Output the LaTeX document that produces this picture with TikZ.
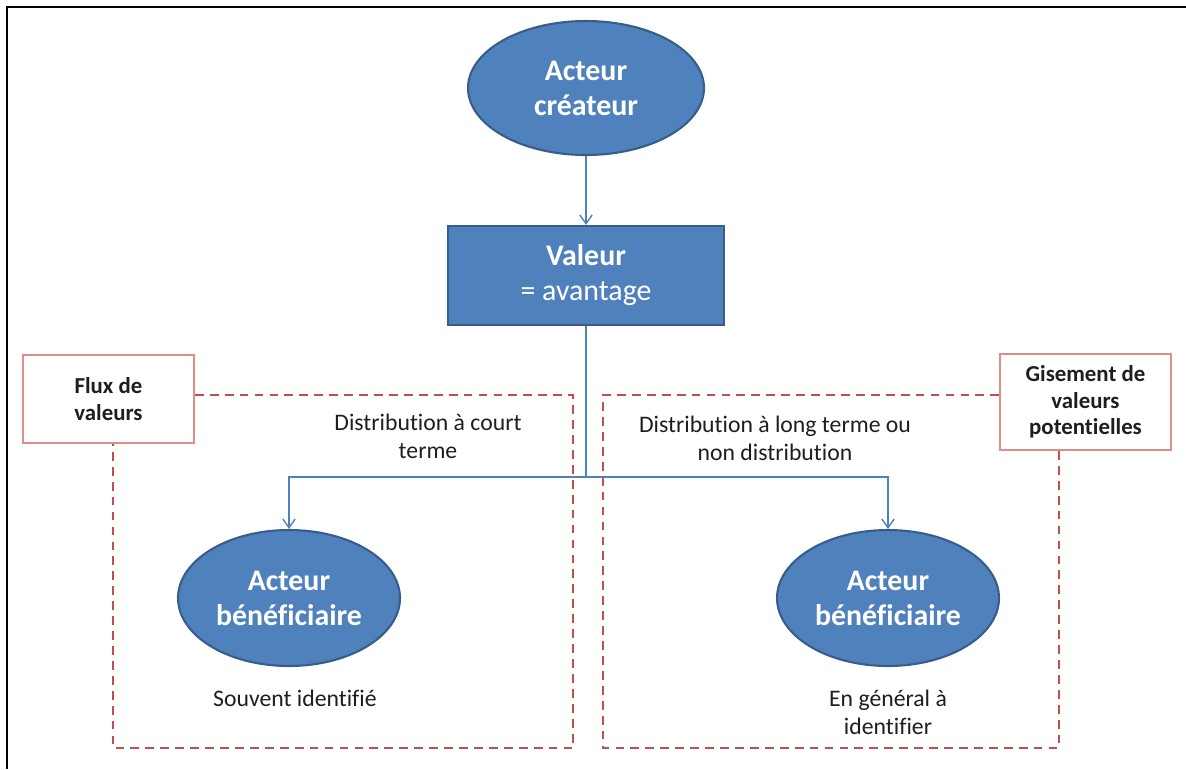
\documentclass[tikz,border=0pt]{standalone}
\usepackage{fontspec}
\setmainfont[Ligatures=NoCommon]{Carlito}
\usetikzlibrary{arrows.meta,shapes.geometric}
\definecolor{offblue}{RGB}{79,129,189}
\definecolor{offedge}{RGB}{56,93,138}
\definecolor{dashred}{RGB}{192,80,77}
\definecolor{labred}{RGB}{226,140,140}
\definecolor{txt}{RGB}{30,30,30}
\tikzset{
  actor/.style={ellipse,draw=offedge,line width=1.2pt,fill=offblue,text=white,
    font=\fontsize{17}{20}\selectfont\bfseries,align=center,inner sep=0pt},
  valbox/.style={rectangle,draw=offedge,line width=1.2pt,fill=offblue,text=white,
    font=\fontsize{17}{20}\selectfont,align=center,
    minimum width=5.52cm,minimum height=1.98cm},
  tagbox/.style={rectangle,draw=labred,line width=1pt,fill=white,text=txt,
    font=\fontsize{13}{15}\selectfont\bfseries,align=center,
    minimum width=3.42cm,inner sep=0pt},
  link/.style={draw=offblue,line width=0.8pt},
  zone/.style={draw=dashred,line width=1.3pt,dash pattern=on 5pt off 3.5pt},
  note/.style={text=txt,font=\fontsize{13.5}{16}\selectfont,align=center}
}
\begin{document}
\begin{tikzpicture}[x=0.02cm,y=-0.02cm]
\useasboundingbox (0,0) rectangle (1186,769);
\draw[line width=1.3pt] (7,769) -- (7,7) -- (1186,7);

% zones en pointilles
\node[tagbox,minimum height=1.76cm] (flux) at (108.5,399) {Flux de\\valeurs};
\node[tagbox,minimum height=1.92cm] (gis) at (1085.5,402) {Gisement de\\valeurs\\potentielles};
\coordinate (ftr) at (573,395);
\coordinate (fbl) at (113,748);
\coordinate (gtl) at (603,395);
\coordinate (gbr) at (1059,748);
\draw[zone] (flux.east |- ftr) -- (ftr) -- (ftr |- fbl) -- (fbl) -- (fbl |- flux.south);
\draw[zone] (gis.west |- gtl) -- (gtl) -- (gtl |- gbr) -- (gbr) -- (gbr |- gis.south);

% acteurs et valeur
\node[actor,minimum width=4.72cm,minimum height=2.68cm] (createur) at (586,88) {Acteur\\créateur};
\node[valbox] (valeur) at (586,275.5) {\textbf{Valeur}\\= avantage};
\foreach \n/\x in {benef1/289,benef2/888} {
  \node[actor,minimum width=4.44cm,minimum height=2.72cm] (\n) at (\x,598) {Acteur\\bénéficiaire};
}
\coordinate (split) at (586,477);

\draw[link,-{Straight Barb[length=5pt,width=7pt]}] (createur.south) -- (valeur.north);
\draw[link] (valeur.south) -- (split);
\draw[link,-{Straight Barb[length=5pt,width=7pt]}] (split) -| (benef1.north);
\draw[link,-{Straight Barb[length=5pt,width=7pt]}] (split) -| (benef2.north);

% textes
\node[note] (court) at (428,436) {Distribution à court\\terme};
\node[note] (long) at (775,438) {Distribution à long terme ou\\non distribution};
\node[note] (souvent) at (295,698) {Souvent identifié};
\node[note] (general) at (888,712) {En général à\\identifier};
\end{tikzpicture}
\end{document}
